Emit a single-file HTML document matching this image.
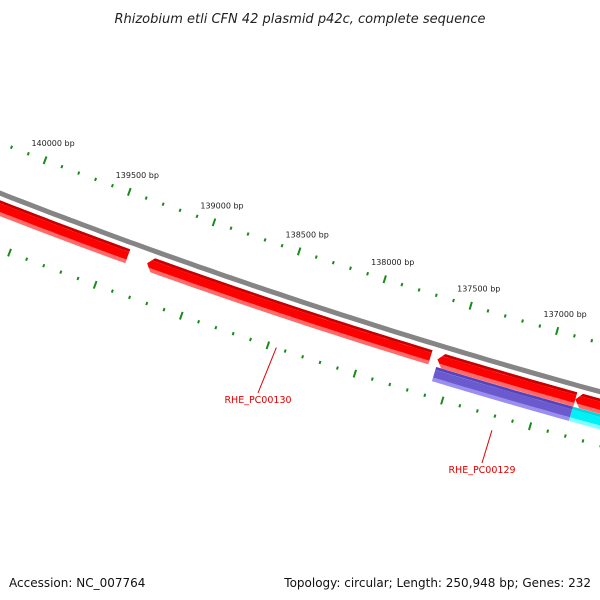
<!DOCTYPE html>
<html><head><meta charset="utf-8"><style>
html,body{margin:0;padding:0;background:#fff}
svg{display:block}
text{font-family:"DejaVu Sans","Liberation Sans",sans-serif}
</style></head><body>
<svg id="map" width="600" height="600" viewBox="0 0 600 600" xmlns="http://www.w3.org/2000/svg">
<rect width="600" height="600" fill="#fff"/>
<text x="300" y="23" text-anchor="middle" font-size="13" font-style="italic" fill="#222">Rhizobium etli CFN 42 plasmid p42c, complete sequence</text>
<g id="ticks"></g>
<g id="backbone"></g>
<g id="genes"></g>
<g id="labels"></g>
<text x="9" y="587" font-size="12" fill="#111">Accession: NC_007764</text>
<text x="591" y="587" text-anchor="end" font-size="12" fill="#111">Topology: circular; Length: 250,948 bp; Genes: 232</text>
</svg>
<script>
// data
const geneStarts = [139336, 139273, 137590, 136801, 137585, 136803];
const geneEnds   = [141500, 137631, 136801, 135800, 136803, 135800];
const geneTracks = ["fwd", "fwd", "fwd", "fwd", "rev", "rev"];
const geneArrows = [false, true, true, true, false, false];
const geneKinds  = ["red", "red", "red", "red", "purple", "cyan"];
const labelNames = ["RHE_PC00130", "RHE_PC00129"];
const labelGenes = [1, 4];
const tickStart = 136000, tickEnd = 141000, tickStep = 100, majorStep = 500;

const NS = "http://www.w3.org/2000/svg";
const cx = 2182, cy = -5396, R = 6000;
const phi0 = Math.atan2(268 - cy, 198 - cx);
const k = 0.1814 / R;
function ang(bp){ return phi0 + (bp - 139000) * k; }
function pt(bp, r){ const a = ang(bp); return [cx + r*Math.cos(a), cy + r*Math.sin(a)]; }
function arcPts(b1, b2, r){
  const n = Math.max(2, Math.ceil(Math.abs(b2-b1)/40));
  const out = [];
  for(let i=0;i<=n;i++){ out.push(pt(b1 + (b2-b1)*i/n, r)); }
  return out;
}
function mk(tag, attrs, parent){
  const e = document.createElementNS(NS, tag);
  for(const a in attrs) e.setAttribute(a, attrs[a]);
  parent.appendChild(e); return e;
}
const fmt = p => p.map(q => q[0].toFixed(1)+","+q[1].toFixed(1)).join(" ");

// backbone
const bb = document.getElementById("backbone");
const bl = mk("polyline", {points: fmt(arcPts(tickStart-2000, tickEnd+2000, R)), fill:"none", stroke:"#858585", "stroke-width":5}, bb);



// ticks
const tg = document.getElementById("ticks");
for(let bp = tickStart; bp <= tickEnd; bp += tickStep){
  const major = bp % majorStep === 0;
  [R-47, R+52].forEach((rr, idx) => {
    const h = major ? 4 : 1.6;
    const a = pt(bp, rr-h), b = pt(bp, rr+h);
    const t = mk("line", {x1:a[0], y1:a[1], x2:b[0], y2:b[1], stroke:"#1a8a1a", "stroke-width": 2}, tg);
    
    
    if(major && idx === 0){
      const p = pt(bp, R-47);
      const lab = mk("text", {x:p[0]+8, y:p[1]-14, "text-anchor":"middle", "font-size":8, fill:"#222"}, tg);
      lab.textContent = bp + " bp";
      
      
    }
  });
}

// genes
const colors = {
  red:{dark:"#c80000", main:"#ff0000", light:"#ff6a6a"},
  purple:{dark:"#5544bb", main:"#6a5acd", light:"#9a8ff0"},
  cyan:{dark:"#00d8e0", main:"#00f0f5", light:"#80ffff"}
};
const gg = document.getElementById("genes");
const defs = mk("defs", {}, gg);
const geneR = {fwd: R+14, rev: R+29};
const W = 15, headBp = 33;
for(let i=0;i<geneStarts.length;i++){
  const r = geneR[geneTracks[i]];
  const s = geneStarts[i], e = geneEnds[i];
  let poly;
  if(geneArrows[i]){
    poly = [pt(s, r)].concat(arcPts(s-headBp, e, r-W/2), arcPts(e, s-headBp, r+W/2));
  } else {
    poly = arcPts(s, e, r-W/2).concat(arcPts(e, s, r+W/2));
  }
  const cp = mk("clipPath", {id:"gc"+i}, defs);
  mk("polygon", {points: fmt(poly)}, cp);
  const g = mk("g", {"clip-path":"url(#gc"+i+")"}, gg);
  
  
  const c = colors[geneKinds[i]];
  const bands = [[r-W/2+1.5, 3, c.dark],[r, 9, c.main],[r+W/2-2, 4, c.light]];
  bands.forEach(b => {
    mk("polyline", {points: fmt(arcPts(s+50, e-50, b[0])), fill:"none", stroke:b[2], "stroke-width":b[1]}, g);
  });
}

// labels
const lg = document.getElementById("labels");
const labelPos = [[258, 403], [482, 473]];
for(let j=0;j<labelNames.length;j++){
  const gi = labelGenes[j];
  const r = geneR[geneTracks[gi]] + W/2 + 30;
  const mid = (geneStarts[gi] + geneEnds[gi]) / 2;
  const p = pt(mid, r);
  const ln = mk("line", {x1:labelPos[j][0], y1:labelPos[j][1]-10, x2:p[0], y2:p[1], stroke:"#e00000", "stroke-width":1}, lg);
  
  
  const t = mk("text", {x:labelPos[j][0], y:labelPos[j][1], "text-anchor":"middle", "font-size":9.5, fill:"#e00000"}, lg);
  t.textContent = labelNames[j];
  
  
}
</script>
</body></html>
